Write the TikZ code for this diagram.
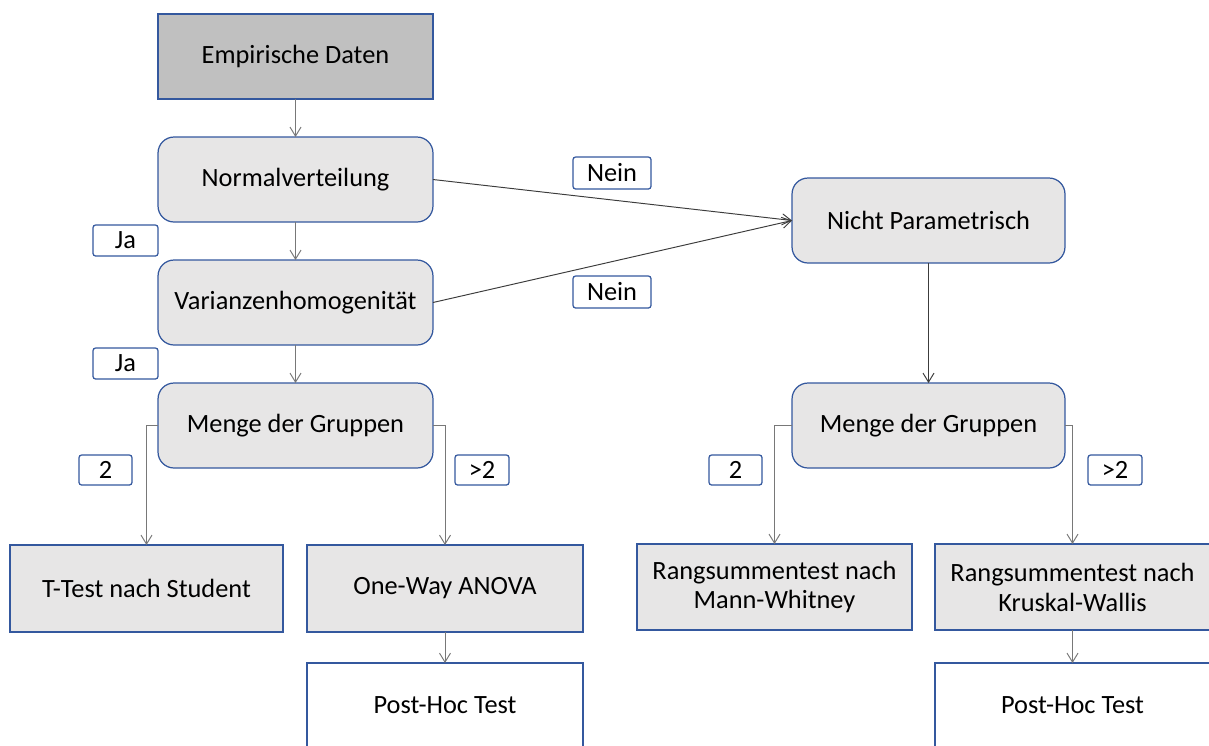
\documentclass[tikz,border=0pt]{standalone}
\usepackage{fontspec}
\setmainfont{Carlito}
\usepackage{tikz}
\usetikzlibrary{arrows.meta,positioning}
\definecolor{boxblue}{RGB}{52,88,158}
\definecolor{boxgray}{RGB}{231,230,230}
\definecolor{startgray}{RGB}{192,192,192}
\definecolor{linegray}{RGB}{120,120,120}
\definecolor{linedark}{RGB}{60,60,60}

\begin{document}
\begin{tikzpicture}[x=0.02cm, y=-0.02cm,
    font=\fontsize{15pt}{17pt}\selectfont,
    every node/.style={inner sep=0pt, outer sep=0pt},
    basebox/.style={draw=boxblue, line width=0.7pt, minimum width=5.5cm, minimum height=1.7cm, align=center},
    startbox/.style={basebox, fill=startgray},
    roundbox/.style={basebox, fill=boxgray, rounded corners=0.32cm},
    testbox/.style={basebox, fill=boxgray},
    endbox/.style={basebox, fill=white},
    tag/.style={draw=boxblue, line width=0.7pt, fill=white, rounded corners=1.5pt, minimum height=0.62cm},
    pfeil/.style={draw=linegray, line width=0.55pt, -{Straight Barb[length=1.8mm, width=2.2mm]}},
    pfeildark/.style={pfeil, draw=linedark}
]
    \clip (0,0) rectangle (1209,745);

    % left column
    \node[startbox] (daten) at (295.5,56.5) {Empirische Daten};
    \node[roundbox] (normal) at (295.5,179.5) {Normalverteilung};
    \node[roundbox] (varianz) at (295.5,302.5) {Varianzenhomogenit\"at};
    \node[roundbox] (mengeL) at (295.5,425.5) {Menge der Gruppen};

    % right column
    \node[roundbox, minimum width=5.46cm] (nicht) at (928.5,220.5) {Nicht Parametrisch};
    \node[roundbox, minimum width=5.46cm] (mengeR) at (928.5,425.5) {Menge der Gruppen};

    % tests
    \node[testbox, minimum width=5.46cm, minimum height=1.74cm] (ttest) at (146.5,588.5) {T-Test nach Student};
    \node[testbox, minimum width=5.52cm, minimum height=1.74cm] (anova) at (445,588.5) {One-Way ANOVA};
    \node[endbox, minimum width=5.52cm] (posthocL) at (445,705.5) {Post-Hoc Test};
    \node[testbox, minimum height=1.72cm] (mann) at (774.5,587) {Rangsummentest nach\\Mann-Whitney};
    \node[testbox, minimum height=1.72cm] (kruskal) at (1072.5,587) {Rangsummentest nach\\Kruskal-Wallis};
    \node[endbox] (posthocR) at (1072.5,705.5) {Post-Hoc Test};

    % answer tags
    \node[tag, minimum width=1.3cm] (ja1) at (125.5,240.5) {Ja};
    \node[tag, minimum width=1.3cm] (ja2) at (125.5,363.5) {Ja};
    \node[tag, minimum width=1.56cm, minimum height=0.64cm] (nein1) at (612,173) {Nein};
    \node[tag, minimum width=1.56cm, minimum height=0.64cm] (nein2) at (612,292) {Nein};
    \node[tag, minimum width=1.06cm, minimum height=0.6cm] (zwei1) at (105.5,470) {2};
    \node[tag, minimum width=1.08cm, minimum height=0.6cm] (mehr1) at (482,470) {>2};
    \node[tag, minimum width=1.06cm, minimum height=0.6cm] (zwei2) at (735.5,470) {2};
    \node[tag, minimum width=1.08cm, minimum height=0.6cm] (mehr2) at (1115,470) {>2};

    % connectors
    \draw[pfeil] (daten) -- (normal);
    \draw[pfeil] (normal) -- (varianz);
    \draw[pfeil] (varianz) -- (mengeL);
    \draw[pfeildark] (normal.east) -- (nicht.west);
    \draw[pfeildark] (varianz.east) -- (nicht.west);
    \draw[pfeildark] (nicht) -- (mengeR);
    \draw[pfeil] (mengeL.west) -| (ttest.north);
    \draw[pfeil] (mengeL.east) -| (anova.north);
    \draw[pfeil] (anova) -- (posthocL);
    \draw[pfeil] (mengeR.west) -| (mann.north);
    \draw[pfeil] (mengeR.east) -| (kruskal.north);
    \draw[pfeil] (kruskal) -- (posthocR);
\end{tikzpicture}
\end{document}
